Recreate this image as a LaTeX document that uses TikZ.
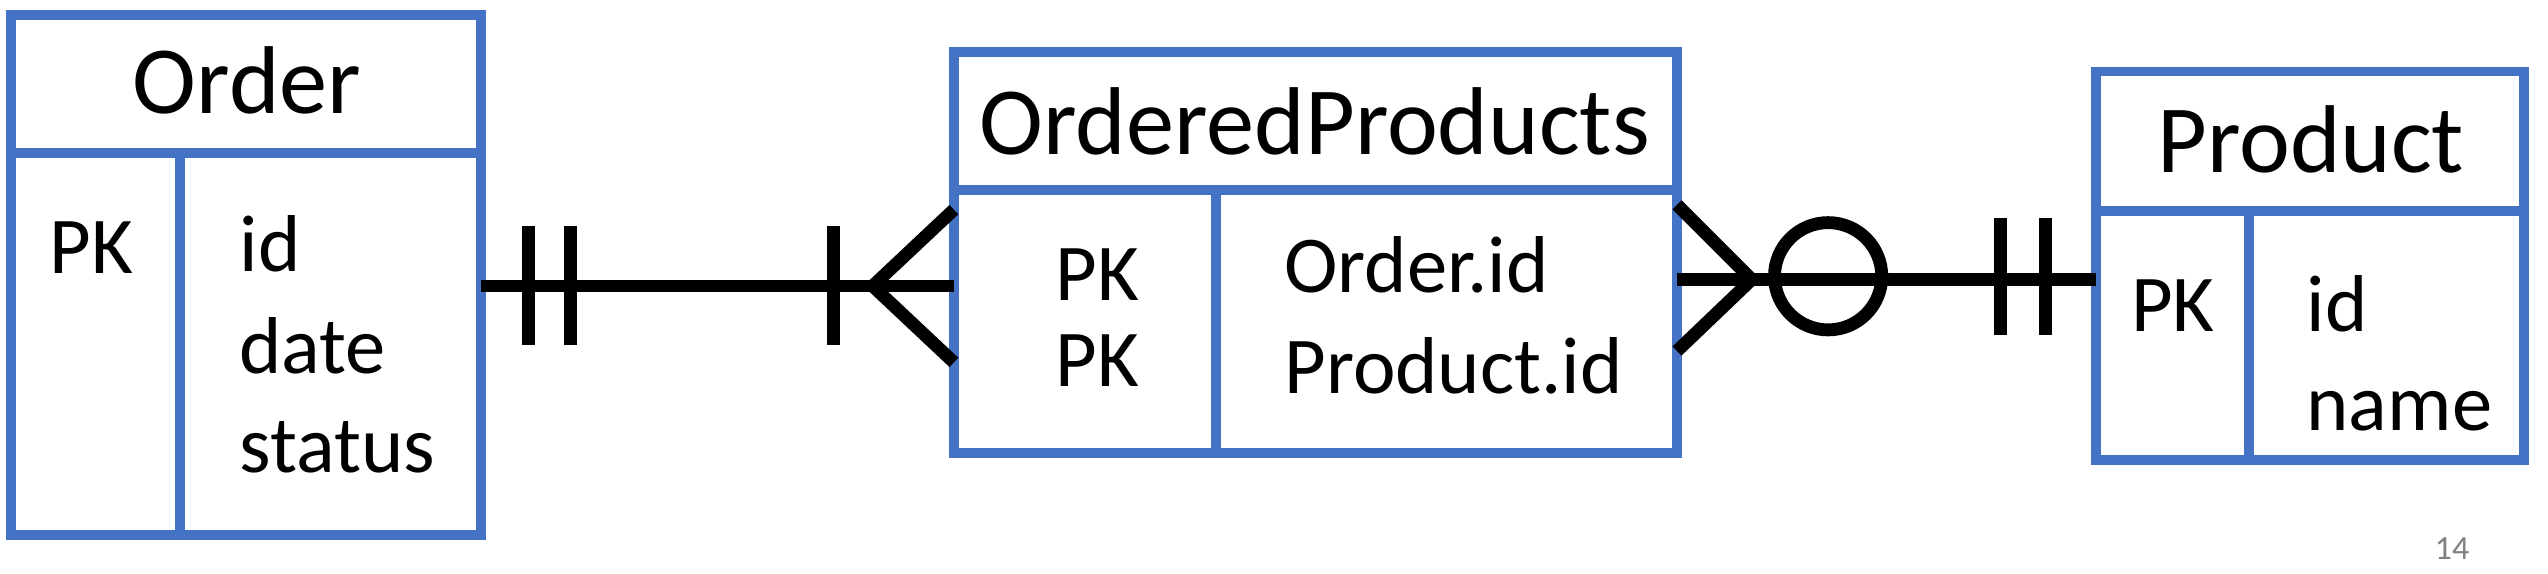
\documentclass[tikz,border=0pt]{standalone}
\usepackage{fontspec}
\setmainfont{Carlito}
\usetikzlibrary{fit}
\definecolor{erblue}{RGB}{68,114,196}
\tikzset{
  tbl/.style={draw=erblue, line width=2.8pt, fill=white, inner sep=0pt, outer sep=0pt},
  tbltitle/.style={font=\fontsize{27}{32}\selectfont, anchor=base, inner sep=0pt},
  field/.style={font=\fontsize{22.6}{28}\selectfont, anchor=base west, inner sep=0pt},
  rel/.style={line width=3.6pt}
}
\begin{document}
\begin{tikzpicture}[x=0.016cm, y=-0.016cm]
\useasboundingbox (0,0) rectangle (1568,353);
% Order
\node[tbl, fit={(7,9) (296,94)}] (ordhead) {};
\node[tbl, fit={(7,94) (111,329)}] (ordkey) {};
\node[tbl, fit={(111,94) (296,329)}] (ordattr) {};
\node[tbltitle] (ordtitle) at (152,70) {Order};
\node[field] (ordpk) at (30,168) {PK};
\node[field] (ordid) at (147,167) {id};
\node[field] (orddate) at (147,230) {date};
\node[field] (ordstatus) at (147,291) {status};
% OrderedProducts
\node[tbl, fit={(587,32) (1032,117)}] (ophead) {};
\node[tbl, fit={(587,117) (748,279)}] (opkey) {};
\node[tbl, fit={(748,117) (1032,279)}] (opattr) {};
\node[tbltitle] (optitle) at (809,95) {OrderedProducts};
\node[field] (oppka) at (649,185) {PK};
\node[field] (oppkb) at (649,238) {PK};
\node[field] (oporder) at (790,180) {Order.id};
\node[field] (opproduct) at (790,242) {Product.id};
% Product
\node[tbl, fit={(1290,44) (1553,130)}] (prhead) {};
\node[tbl, fit={(1290,130) (1384,283)}] (prkey) {};
\node[tbl, fit={(1384,130) (1553,283)}] (prattr) {};
\node[tbltitle] (prtitle) at (1422,106) {Product};
\node[field] (prpk) at (1311,204) {PK};
\node[field] (prid) at (1419,204) {id};
\node[field] (prname) at (1419,265) {name};
\node[font=\fontsize{9.5}{11}\selectfont, text=gray, anchor=base west, inner sep=0pt] (pagenum) at (1498,344) {14};
% Order ||---|< OrderedProducts
\draw[rel] (ordattr.east |- 0,176) -- (opkey.west |- 0,176);
\draw[rel] (325,139) -- (325,212);
\draw[rel] (351,139) -- (351,212);
\draw[rel] (513,139) -- (513,212);
\draw[rel] (opkey.west |- 0,129) -- (537,176) -- (opkey.west |- 0,223);
% OrderedProducts >o---|| Product
\draw[rel] (opattr.east |- 0,172) -- (prkey.west |- 0,172);
\draw[rel] (opattr.east |- 0,126) -- (1078,172) -- (opattr.east |- 0,216);
\draw[rel] (1125,170) circle (33);
\draw[rel] (1231,134) -- (1231,206);
\draw[rel] (1259,134) -- (1259,206);
\end{tikzpicture}
\end{document}
